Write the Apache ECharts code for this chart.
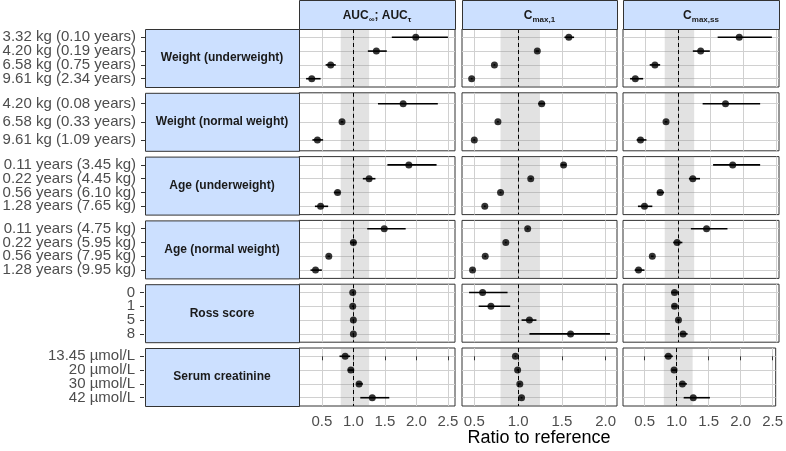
<!DOCTYPE html>
<html><head><meta charset="utf-8">
<script src="https://cdn.jsdelivr.net/npm/echarts@6/dist/echarts.min.js"></script>
<style>html,body{margin:0;padding:0;background:#fff}#c{width:786px;height:451px}</style>
</head><body><div id="c"></div>
<script>
// ---------- data ----------
const groupNames = ['Weight (underweight)', 'Weight (normal weight)', 'Age (underweight)', 'Age (normal weight)', 'Ross score', 'Serum creatinine'];
const groupLabels = [
  ['3.32 kg (0.10 years)', '4.20 kg (0.19 years)', '6.58 kg (0.75 years)', '9.61 kg (2.34 years)'],
  ['4.20 kg (0.08 years)', '6.58 kg (0.33 years)', '9.61 kg (1.09 years)'],
  ['0.11 years (3.45 kg)', '0.22 years (4.45 kg)', '0.56 years (6.10 kg)', '1.28 years (7.65 kg)'],
  ['0.11 years (4.75 kg)', '0.22 years (5.95 kg)', '0.56 years (7.95 kg)', '1.28 years (9.95 kg)'],
  ['0', '1', '5', '8'],
  ['13.45 µmol/L', '20 µmol/L', '30 µmol/L', '42 µmol/L']
];
const xTicks = [0.5, 1.0, 1.5, 2.0, 2.5];
const refValue = 1.0;
const refBand = [0.8, 1.25];

const aucEst = [[1.99,1.365,0.64,0.34],[1.79,0.82,0.43],[1.88,1.25,0.75,0.48],[1.49,1.0,0.61,0.40],[0.99,0.99,1.0,1.0],[0.87,0.96,1.09,1.30]];
const aucLow = [[1.61,1.23,0.56,0.25],[1.39,0.80,0.35],[1.54,1.15,0.69,0.39],[1.22,0.95,0.59,0.32],[0.98,0.98,0.99,0.99],[0.78,0.91,1.05,1.11]];
const aucHigh = [[2.50,1.53,0.72,0.48],[2.34,0.84,0.52],[2.32,1.35,0.79,0.60],[1.83,1.05,0.63,0.50],[1.0,1.0,1.01,1.01],[0.95,1.0,1.15,1.57]];

const cmax1Est = [[1.58,1.22,0.73,0.47],[1.27,0.77,0.50],[1.52,1.145,0.80,0.62],[1.11,0.86,0.625,0.48],[0.595,0.69,1.13,1.60],[0.97,0.995,1.02,1.04]];
const cmax1Low = [[1.53,1.20,0.72,0.46],[1.23,0.76,0.49],[1.49,1.13,0.79,0.61],[1.10,0.85,0.615,0.47],[0.44,0.55,1.04,1.13],[0.96,0.985,1.01,1.03]];
const cmax1High = [[1.64,1.24,0.74,0.48],[1.31,0.78,0.51],[1.55,1.16,0.81,0.63],[1.12,0.87,0.635,0.49],[0.88,0.91,1.21,2.05],[0.98,1.005,1.03,1.05]];

const cmaxssEst = [[1.94,1.35,0.65,0.35],[1.73,0.82,0.43],[1.84,1.23,0.73,0.49],[1.44,0.99,0.61,0.40],[0.95,0.95,1.01,1.08],[0.87,0.96,1.09,1.26]];
const cmaxssLow = [[1.61,1.23,0.57,0.27],[1.38,0.80,0.37],[1.54,1.17,0.68,0.39],[1.20,0.93,0.59,0.34],[0.90,0.91,0.99,1.03],[0.81,0.92,1.04,1.11]];
const cmaxssHigh = [[2.44,1.49,0.73,0.47],[2.26,0.84,0.52],[2.26,1.34,0.79,0.61],[1.76,1.07,0.63,0.49],[1.0,0.99,1.03,1.15],[0.94,1.0,1.16,1.52]];

const metricTitles = ['{b|AUC}{s|∞}{b|; AUC}{s|τ}', '{b|C}{s|max,1}', '{b|C}{s|max,ss}'];
const axisTitle = 'Ratio to reference';

// ---------- layout ----------
const metrics = [[aucEst, aucLow, aucHigh], [cmax1Est, cmax1Low, cmax1High], [cmaxssEst, cmaxssLow, cmaxssHigh]];
const colLeft = [299, 462, 623];
const colWidth = [156, 155, 156];
const rowTop0 = 29, rowStep = 63.8, rowH = 58;
const stripLeft = 145;
const yAxisX = 144;
const FONT = '"Liberation Sans", Arial, sans-serif';
const stripFill = '#cce0ff', borderCol = '#333333';
const EXP = 0.6; // discrete-axis expansion (ggplot style)

function range(m) {
  let lo = Infinity, hi = -Infinity;
  m[1].forEach(g => g.forEach(v => lo = Math.min(lo, v)));
  m[2].forEach(g => g.forEach(v => hi = Math.max(hi, v)));
  const e = (hi - lo) * 0.05;
  return [lo - e, hi + e];
}

const grids = [], xAxes = [], yAxes = [], series = [], graphics = [];
let gi = 0;
for (let r = 0; r < groupNames.length; r++) {
  const labels = groupLabels[r];
  const n = labels.length;
  const top = rowTop0 + r * rowStep;
  for (let c = 0; c < 3; c++) {
    const m = metrics[c];
    const [xmin, xmax] = range(m);
    const ticks = xTicks.filter(t => t >= xmin && t <= xmax);
    const bottomRow = r === groupNames.length - 1;
    grids.push({ left: colLeft[c], top: top, width: colWidth[c], height: rowH, show: true, borderColor: borderCol, borderWidth: 1, backgroundColor: '#fff' });
    xAxes.push({
      type: 'value', gridIndex: gi, min: xmin, max: xmax,
      axisLine: { show: false },
      axisTick: { show: bottomRow, length: 4, lineStyle: { color: borderCol }, customValues: ticks },
      axisLabel: { show: bottomRow, customValues: ticks, formatter: v => v.toFixed(1), color: '#4d4d4d', fontSize: 15, fontFamily: FONT, margin: 8, hideOverlap: false, showMinLabel: true, showMaxLabel: true },
      splitLine: { show: true, lineStyle: { color: '#d0d0d0', width: 1 } }
    });
    const idx = labels.map((_, i) => i);
    yAxes.push({
      type: 'value', gridIndex: gi, min: -EXP, max: n - 1 + EXP, inverse: true,
      axisLine: { show: false },
      axisTick: { show: false, customValues: idx },
      axisLabel: { show: false, customValues: idx },
      splitLine: { show: true, lineStyle: { color: '#d0d0d0', width: 1 } }
    });
    series.push({
      type: 'scatter', xAxisIndex: gi, yAxisIndex: gi, data: [], z: 1, silent: true,
      markArea: { silent: true, itemStyle: { color: 'rgba(140,140,140,0.25)' }, data: [[{ xAxis: refBand[0] }, { xAxis: refBand[1] }]] },
      markLine: { silent: true, symbol: 'none', label: { show: false }, lineStyle: { color: '#000', width: 1, type: [4, 3] }, data: [{ xAxis: refValue }] }
    });
    series.push({
      type: 'custom', xAxisIndex: gi, yAxisIndex: gi, z: 2, silent: true,
      data: labels.map((_, i) => [m[1][r][i], m[2][r][i], i]),
      encode: { x: [0, 1], y: 2 },
      renderItem: (params, api) => {
        const p1 = api.coord([api.value(0), api.value(2)]);
        const p2 = api.coord([api.value(1), api.value(2)]);
        return { type: 'line', shape: { x1: p1[0], y1: p1[1], x2: p2[0], y2: p2[1] }, style: { stroke: '#000', lineWidth: 1.6 } };
      }
    });
    series.push({
      type: 'scatter', xAxisIndex: gi, yAxisIndex: gi, z: 3, silent: true,
      symbolSize: 7, itemStyle: { color: '#000' },
      data: labels.map((_, i) => [m[0][r][i], i])
    });
    gi++;
  }
  // label-only grid: category axis whose band centres coincide with the panel rows
  const unit = rowH / (n - 1 + 2 * EXP);
  grids.push({ left: yAxisX, top: top + (EXP - 0.5) * unit, width: 1, height: n * unit, show: false });
  xAxes.push({ type: 'value', gridIndex: gi, show: false });
  yAxes.push({
    type: 'category', gridIndex: gi, data: labels, inverse: true,
    axisLine: { show: false },
    axisTick: { show: true, length: 4, alignWithLabel: true, interval: 0, lineStyle: { color: borderCol } },
    axisLabel: { interval: 0, color: '#4d4d4d', fontSize: 15, fontFamily: FONT, margin: 9 },
    splitLine: { show: false }
  });
  gi++;
  graphics.push({ type: 'rect', shape: { x: stripLeft + 0.5, y: top + 0.5, width: colLeft[0] - stripLeft, height: rowH }, style: { fill: stripFill, stroke: borderCol, lineWidth: 1 }, z: 10 });
  graphics.push({ type: 'text', x: (stripLeft + colLeft[0]) / 2, y: top + rowH / 2, style: { text: groupNames[r], fill: '#1a1a1a', font: 'bold 12px ' + FONT, align: 'center', verticalAlign: 'middle' }, z: 11 });
}
for (let c = 0; c < 3; c++) {
  graphics.push({ type: 'rect', shape: { x: colLeft[c] + 0.5, y: 0.5, width: colWidth[c], height: rowTop0 }, style: { fill: stripFill, stroke: borderCol, lineWidth: 1 }, z: 10 });
  graphics.push({ type: 'text', x: colLeft[c] + colWidth[c] / 2, y: rowTop0 / 2 + 1, style: {
    text: metricTitles[c], align: 'center', verticalAlign: 'middle',
    rich: {
      b: { fontFamily: FONT, fontWeight: 'bold', fontSize: 12, fill: '#1a1a1a', lineHeight: 18, verticalAlign: 'middle' },
      s: { fontFamily: FONT, fontWeight: 'bold', fontSize: 8, fill: '#1a1a1a', lineHeight: 18, padding: [8, 0, 0, 0], verticalAlign: 'middle' }
    } }, z: 11 });
}
graphics.push({ type: 'text', x: (colLeft[0] + colLeft[2] + colWidth[2]) / 2, y: 438, style: { text: axisTitle, fill: '#000', font: '18px ' + FONT, align: 'center', verticalAlign: 'middle' }, z: 11 });

const chart = echarts.init(document.getElementById('c'), null, { renderer: 'canvas' });
chart.setOption({ animation: false, grid: grids, xAxis: xAxes, yAxis: yAxes, series: series, graphic: graphics });
</script></body></html>
